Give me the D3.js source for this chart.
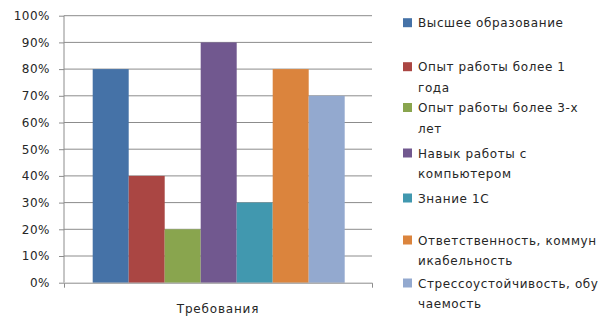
<!DOCTYPE html>
<html><head><meta charset="utf-8">
<script src="https://cdn.jsdelivr.net/npm/d3@7"></script>
<style>html,body{margin:0;padding:0;background:#fff;}svg{display:block;}</style>
</head><body>
<svg id="c" width="602" height="316"></svg>
<script>
const categories = ["Требования"];
const seriesNames = [
  ["Высшее образование"],
  ["Опыт работы более 1", "года"],
  ["Опыт работы более 3-х", "лет"],
  ["Навык работы с", "компьютером"],
  ["Знание 1С"],
  ["Ответственность, коммун", "икабельность"],
  ["Стрессоустойчивость, обу", "чаемость"]
];
const seriesValues = [80, 40, 20, 90, 30, 80, 70];
const seriesColors = ["#4572A7", "#AA4643", "#89A54E", "#71588F", "#4198AF", "#DB843D", "#93A9CF"];
const yTicks = [0, 10, 20, 30, 40, 50, 60, 70, 80, 90, 100];
const legendY = [22.7, 66.7, 107.5, 153, 198, 240, 283];

const svg = d3.select("#c");
const font = "'DejaVu Sans', sans-serif";
const L = 64, R = 372, T = 15.7, B = 282.7;

const y = d3.scaleLinear().domain([0, 100]).range([B, T]);
const x0 = d3.scaleBand().domain(categories).range([L, R]).paddingInner(0).paddingOuter(0);
const x1 = d3.scaleBand().domain(d3.range(seriesValues.length))
  .range([x0(categories[0]) + 28.7, x0(categories[0]) + x0.bandwidth() - 27.3]).padding(0);

// gridlines
svg.append("g").selectAll("line").data(yTicks.filter(d => d > 0)).join("line")
  .attr("x1", L).attr("x2", R).attr("y1", d => y(d)).attr("y2", d => y(d))
  .attr("stroke", "#8c8c8c").attr("stroke-width", 1);

// bars
svg.append("g").selectAll("rect").data(seriesValues).join("rect")
  .attr("x", (d, i) => x1(i)).attr("width", x1.bandwidth())
  .attr("y", d => y(d)).attr("height", d => B - y(d))
  .attr("fill", (d, i) => seriesColors[i]);

// y axis
const yAxis = d3.axisLeft(y).tickValues(yTicks).tickFormat(d => d + "%").tickSize(5).tickPadding(9);
const gy = svg.append("g").attr("transform", `translate(${L},0)`).call(yAxis);
gy.select(".domain").attr("stroke", "#8c8c8c").attr("d", `M0,${T}V${B}`);
gy.selectAll(".tick line").attr("stroke", "#8c8c8c");
gy.selectAll(".tick text").attr("font-family", font).attr("font-size", 12).attr("fill", "#262626")
  .attr("letter-spacing", "0.5px");

// x axis
const xAxis = d3.axisBottom(x0).tickValues([]).tickSizeOuter(5);
const gx = svg.append("g").attr("transform", `translate(0,${B})`).call(xAxis);
gx.select(".domain").attr("stroke", "#8c8c8c");
svg.append("text").attr("x", (L + R) / 2).attr("y", 313).attr("text-anchor", "middle")
  .attr("font-family", font).attr("font-size", 12).attr("fill", "#262626").attr("letter-spacing", "0.8px")
  .text(categories[0]);

// legend
const lg = svg.append("g").selectAll("g").data(seriesNames).join("g")
  .attr("transform", (d, i) => `translate(403,${legendY[i]})`);
lg.append("rect").attr("x", 0).attr("y", -4.5).attr("width", 9).attr("height", 9)
  .attr("fill", (d, i) => seriesColors[i]);
lg.each(function(lines) {
  const t = d3.select(this).append("text").attr("font-family", font).attr("font-size", 12)
    .attr("fill", "#262626").attr("letter-spacing", "0.6px");
  lines.forEach((ln, j) => {
    t.append("tspan").attr("x", 15).attr("y", 4.5 + j * 20.5).text(ln);
  });
});
</script>
</body></html>
